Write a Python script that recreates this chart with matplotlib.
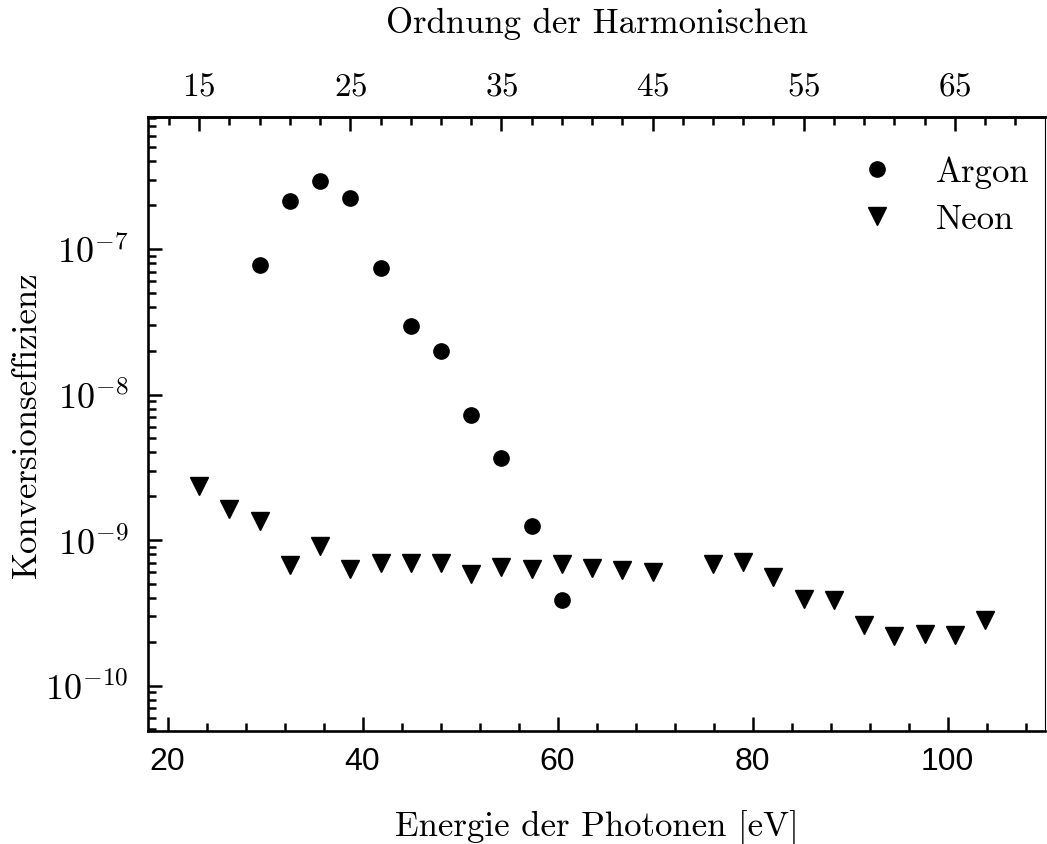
import numpy as np
import matplotlib
matplotlib.use("Agg")
import matplotlib.pyplot as plt
from matplotlib.ticker import FixedLocator, LogLocator, NullFormatter, MultipleLocator, FuncFormatter

plt.rcParams['mathtext.fontset'] = 'cm'
plt.rcParams['font.family'] = 'Liberation Sans'

EV_PER_ORDER = 1.55  # photon energy per harmonic order (800 nm)

# Argon: harmonic orders and conversion efficiency
argon_orders = [19, 21, 23, 25, 27, 29, 31, 33, 35, 37, 39]
argon_eff = [7.76e-8, 2.13e-7, 2.92e-7, 2.24e-7, 7.44e-8, 2.94e-8,
             1.99e-8, 7.24e-9, 3.67e-9, 1.25e-9, 3.9e-10]

# Neon: harmonic orders and conversion efficiency
neon_orders = [15, 17, 19, 21, 23, 25, 27, 29, 31, 33, 35, 37, 39, 41, 43, 45,
               49, 51, 53, 55, 57, 59, 61, 63, 65, 67]
neon_eff = [2.34e-9, 1.64e-9, 1.36e-9, 6.73e-10, 9.16e-10, 6.34e-10, 7.0e-10,
            7.0e-10, 6.94e-10, 5.83e-10, 6.52e-10, 6.36e-10, 6.83e-10, 6.44e-10,
            6.27e-10, 6.03e-10, 6.9e-10, 7.03e-10, 5.56e-10, 3.95e-10, 3.89e-10,
            2.62e-10, 2.18e-10, 2.28e-10, 2.23e-10, 2.84e-10]

y_decades = [1e-10, 1e-9, 1e-8, 1e-7]
top_orders = [15, 25, 35, 45, 55, 65]

argon_ev = np.array(argon_orders) * EV_PER_ORDER
neon_ev = np.array(neon_orders) * EV_PER_ORDER

serif = 'cmr10'
fs = 25

fig = plt.figure(figsize=(10.47, 8.45), dpi=100)
ax = fig.add_axes([0.1414, 0.134, 0.8567, 0.7264])

ax.plot(argon_ev, argon_eff, 'o', color='black', markersize=11, label='Argon')
ax.plot(neon_ev, neon_eff, 'v', color='black', markersize=12.5, label='Neon')

ax.set_yscale('log')
ax.set_xlim(18, 110)
ax.set_ylim(4.9e-11, 8.07e-7)

# bottom axis
ax.xaxis.set_major_locator(MultipleLocator(20))
ax.xaxis.set_minor_locator(MultipleLocator(4))
ax.yaxis.set_major_locator(FixedLocator(y_decades))
ax.yaxis.set_minor_locator(LogLocator(base=10, subs=np.arange(2, 10), numticks=20))
ax.yaxis.set_minor_formatter(NullFormatter())
ax.yaxis.set_major_formatter(FuncFormatter(lambda v, p: r'$10^{%d}$' % round(np.log10(v))))

ax.tick_params(which='both', direction='in', top=False, right=False, width=1.8)
ax.tick_params(which='major', length=10)
ax.tick_params(which='minor', length=5.5)
ax.tick_params(axis='x', labelsize=23, pad=11)
ax.tick_params(axis='y', labelsize=26, pad=14)

for side in ['left', 'bottom', 'top']:
    ax.spines[side].set_linewidth(1.9)
ax.spines['right'].set_linewidth(0.8)

ax.set_xlabel('Energie der Photonen [eV]', fontsize=fs, family=serif, labelpad=24)
ax.set_ylabel('Konversionseffizienz', fontsize=fs, family=serif)
ax.yaxis.set_label_coords(-0.117, 0.5)

# top axis: harmonic order
top = ax.secondary_xaxis('top', functions=(lambda e: e / EV_PER_ORDER,
                                           lambda o: o * EV_PER_ORDER))
top.xaxis.set_major_locator(FixedLocator(top_orders))
top.xaxis.set_minor_locator(FixedLocator(np.arange(13, 71, 2)))
top.xaxis.set_major_formatter(FuncFormatter(lambda v, p: r'$%d$' % round(v)))
top.tick_params(which='both', direction='in', width=1.8, labelsize=24, pad=11)
top.tick_params(which='major', length=10)
top.tick_params(which='minor', length=5.5)
top.spines['top'].set_linewidth(1.9)
top.set_xlabel('Ordnung der Harmonischen', fontsize=fs, family=serif, labelpad=28)

leg = ax.legend(loc='upper right', frameon=False, prop={'family': serif, 'size': fs},
                handletextpad=0.7, labelspacing=0.45, borderaxespad=0.3,
                bbox_to_anchor=(1.01, 0.977))

fig.savefig('out.png', dpi=100)
